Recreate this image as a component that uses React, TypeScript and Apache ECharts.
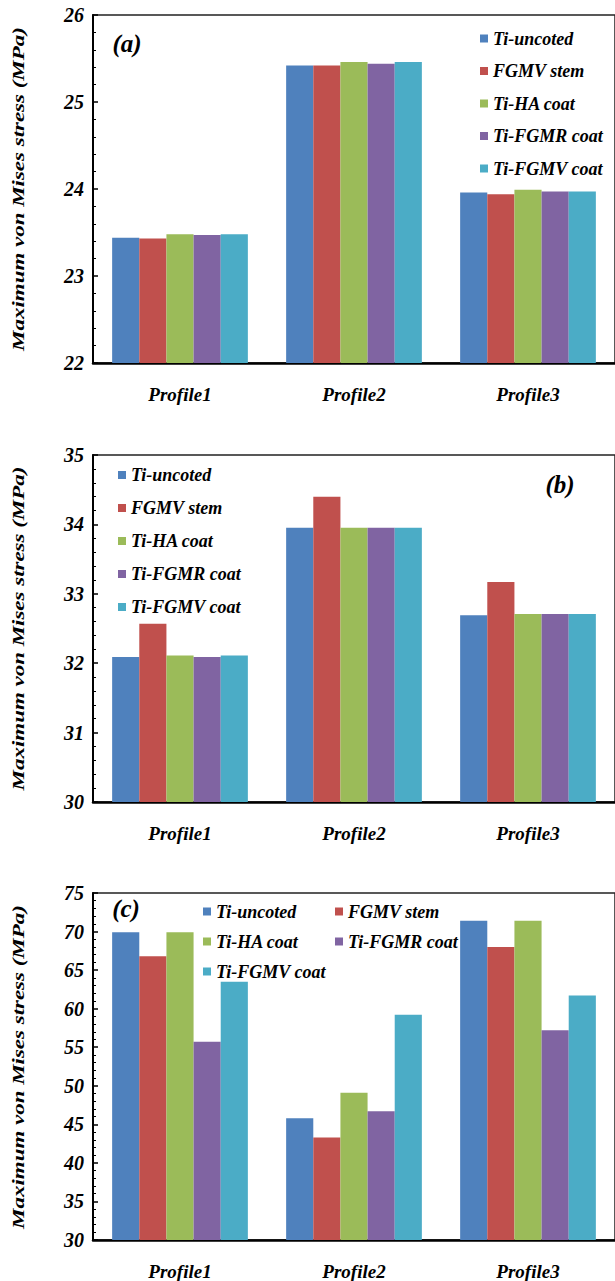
import React, { useEffect, useRef } from "react";
import * as echarts from "echarts";

const categories = ["Profile1", "Profile2", "Profile3"];
const seriesNames = ["Ti-uncoted", "FGMV stem", "Ti-HA coat", "Ti-FGMR coat", "Ti-FGMV coat"];
const colors = ["#4F81BD", "#C0504D", "#9BBB59", "#8064A2", "#4BACC6"];

// Panel (a)
const aTiUncoted = [23.44, 25.42, 23.96];
const aFgmvStem = [23.43, 25.42, 23.94];
const aTiHA = [23.48, 25.46, 23.99];
const aTiFGMR = [23.47, 25.44, 23.97];
const aTiFGMV = [23.48, 25.46, 23.97];

// Panel (b)
const bTiUncoted = [32.09, 33.95, 32.69];
const bFgmvStem = [32.57, 34.4, 33.17];
const bTiHA = [32.11, 33.95, 32.71];
const bTiFGMR = [32.09, 33.95, 32.71];
const bTiFGMV = [32.11, 33.95, 32.71];

// Panel (c)
const cTiUncoted = [69.9, 45.8, 71.4];
const cFgmvStem = [66.8, 43.3, 68.0];
const cTiHA = [69.9, 49.1, 71.4];
const cTiFGMR = [55.7, 46.7, 57.2];
const cTiFGMV = [63.5, 59.2, 61.7];

const panelA = [aTiUncoted, aFgmvStem, aTiHA, aTiFGMR, aTiFGMV];
const panelB = [bTiUncoted, bFgmvStem, bTiHA, bTiFGMR, bTiFGMV];
const panelC = [cTiUncoted, cFgmvStem, cTiHA, cTiFGMR, cTiFGMV];

const yRanges = [
  { min: 22, max: 26, interval: 1 },
  { min: 30, max: 35, interval: 1 },
  { min: 30, max: 75, interval: 5 },
];
const panelLabels = ["(a)", "(b)", "(c)"];
const yAxisTitle = "Maximum von Mises stress (MPa)";

const FONT = "Liberation Serif";

export default function App() {
  const ref = useRef<HTMLDivElement>(null);
  useEffect(() => {
    document.body.style.margin = "0";
    document.body.style.overflow = "hidden";
    if (!ref.current) return;
    const chart = echarts.init(ref.current, undefined, { renderer: "svg" });

    const gridBoxes = [
      { left: 93, top: 15, width: 526, height: 348 },
      { left: 93, top: 455, width: 526, height: 347 },
      { left: 93, top: 893, width: 526, height: 348 },
    ];
    const panels = [panelA, panelB, panelC];

    const grid = gridBoxes.map((g) => ({
      ...g,
      show: true,
      borderColor: "#222",
      borderWidth: 1.5,
      backgroundColor: "transparent",
    }));

    const xAxis = gridBoxes.map((_, i) => ({
      type: "category",
      gridIndex: i,
      data: categories,
      axisLine: { show: true, lineStyle: { color: "#000", width: 2.5 } },
      axisTick: { show: false },
      axisLabel: {
        fontFamily: FONT,
        fontWeight: "bold",
        fontStyle: "italic",
        fontSize: 19,
        color: "#000",
        margin: 22,
      },
    }));

    const yAxis = yRanges.map((r, i) => ({
      type: "value",
      gridIndex: i,
      min: r.min,
      max: r.max,
      interval: r.interval,
      axisLine: { show: true, lineStyle: { color: "#000", width: 2 } },
      axisTick: { show: true, inside: true, length: 5, lineStyle: { color: "#000", width: 1.5 } },
      minorTick: { show: true, splitNumber: 5, length: 3, lineStyle: { color: "#000", width: 1 } },
      splitLine: { show: false },
      minorSplitLine: { show: false },
      axisLabel: {
        fontFamily: FONT,
        fontWeight: "bold",
        fontStyle: "italic",
        fontSize: 20,
        color: "#000",
        margin: 9,
      },
    }));

    const series: any[] = [];
    panels.forEach((panel, p) => {
      panel.forEach((values, s) => {
        series.push({
          type: "bar",
          name: seriesNames[s],
          xAxisIndex: p,
          yAxisIndex: p,
          data: values,
          barGap: "0%",
          barCategoryGap: "22%",
          itemStyle: { color: colors[s] },
        });
      });
    });

    const legendText = {
      fontFamily: FONT,
      fontWeight: "bold",
      fontStyle: "italic",
      fontSize: 18,
      color: "#000",
    };
    const legendBase = {
      orient: "vertical",
      icon: "rect",
      itemWidth: 8,
      itemHeight: 8,
      padding: 0,
      textStyle: legendText,
      selectedMode: false,
    };
    const legend = [
      { ...legendBase, left: 480, top: 29.5, itemGap: 14.5, data: seriesNames },
      { ...legendBase, left: 118, top: 466, itemGap: 15, data: seriesNames },
      { ...legendBase, left: 203, top: 902.5, itemGap: 12, data: [seriesNames[0], seriesNames[2], seriesNames[4]] },
      { ...legendBase, left: 335, top: 902.5, itemGap: 12, data: [seriesNames[1], seriesNames[3]] },
    ];

    const labelPos = [
      { x: 127, y: 43 },
      { x: 560, y: 484 },
      { x: 126, y: 908 },
    ];
    const graphic: any[] = [];
    gridBoxes.forEach((g, i) => {
      graphic.push({
        type: "text",
        x: 18,
        y: g.top + g.height / 2,
        rotation: Math.PI / 2,
        scaleX: 1.35,
        style: {
          text: yAxisTitle,
          font: `italic bold 17px ${FONT}`,
          fill: "#000",
          textAlign: "center",
          textVerticalAlign: "middle",
        },
      });
      graphic.push({
        type: "text",
        x: labelPos[i].x,
        y: labelPos[i].y,
        style: {
          text: panelLabels[i],
          font: `italic bold 25px ${FONT}`,
          fill: "#000",
          textAlign: "center",
          textVerticalAlign: "middle",
        },
      });
    });

    chart.setOption({
      animation: false,
      backgroundColor: "#fff",
      grid,
      xAxis,
      yAxis,
      legend,
      series,
      graphic,
    });
    return () => chart.dispose();
  }, []);
  return <div ref={ref} style={{ width: 615, height: 1281 }} />;
}
